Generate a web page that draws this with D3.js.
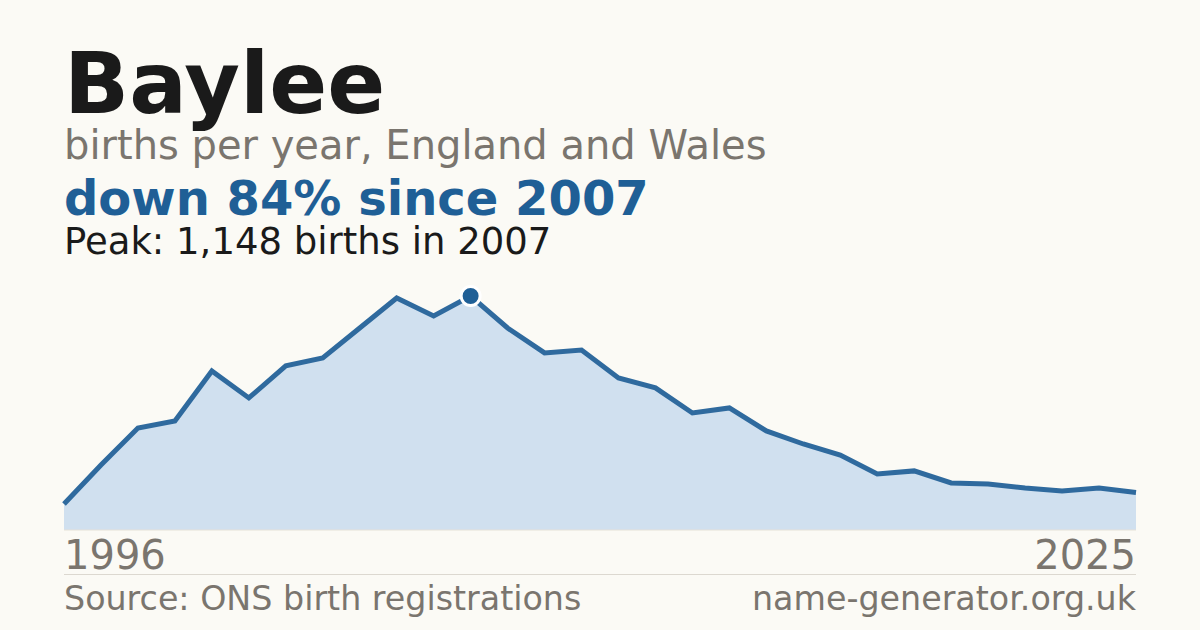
<!DOCTYPE html>
<html><head><meta charset="utf-8">
<script src="https://cdn.jsdelivr.net/npm/d3@7/dist/d3.min.js"></script>
<style>
html,body{margin:0;padding:0;background:#fbfaf5;}
svg{display:block;font-family:"DejaVu Sans",sans-serif;}
</style></head>
<body>
<svg id="chart" width="1200" height="630"></svg>
<script>
const years = [1996,1997,1998,1999,2000,2001,2002,2003,2004,2005,2006,2007,2008,2009,2010,2011,2012,2013,2014,2015,2016,2017,2018,2019,2020,2021,2022,2023,2024,2025];
const births = [128,319,500,535,780,648,805,844,991,1138,1050,1148,991,869,883,746,697,574,599,486,422,368,275,290,231,226,206,191,206,184];
const axisLabels = ["1996","2025"];
const title = "Baylee";
const subtitle = "births per year, England and Wales";
const headline = "down 84% since 2007";
const peakText = "Peak: 1,148 births in 2007";
const sourceText = "Source: ONS birth registrations";
const siteText = "name-generator.org.uk";

const data = years.map((y,i)=>({year:y, value:births[i]}));
const svg = d3.select("#chart");
svg.append("rect").attr("width",1200).attr("height",630).attr("fill","#fbfaf5");

const x = d3.scaleLinear().domain([1996,2025]).range([64,1136]);
const y = d3.scaleLinear().domain([0,1148]).range([530,296]);

svg.append("text").attr("x",64).attr("y",113).attr("font-size",85.5).attr("font-weight","bold").attr("fill","#1a1a1a").text(title);
svg.append("text").attr("x",64).attr("y",159).attr("font-size",40).attr("fill","#7a756e").text(subtitle);
svg.append("text").attr("x",64).attr("y",214.5).attr("font-size",48).attr("font-weight","bold").attr("fill","#1f5f96").text(headline);
svg.append("text").attr("x",64).attr("y",253.5).attr("font-size",37).attr("fill","#1a1a1a").text(peakText);

const area = d3.area().x(d=>x(d.year)).y0(y(0)).y1(d=>y(d.value));
svg.append("path").datum(data).attr("d",area).attr("fill","#d0e0ef");
svg.append("line").attr("x1",64).attr("x2",1136).attr("y1",y(0)).attr("y2",y(0)).attr("stroke","#e6e1d8").attr("stroke-width",1);

const line = d3.line().x(d=>x(d.year)).y(d=>y(d.value));
svg.append("path").datum(data).attr("d",line).attr("fill","none").attr("stroke","#2f6a9e").attr("stroke-width",5).attr("stroke-linejoin","miter");

const peakIdx = births.indexOf(d3.max(births));
svg.append("circle").attr("cx",x(years[peakIdx])).attr("cy",y(births[peakIdx])).attr("r",9.5)
  .attr("fill","#1f5f96").attr("stroke","#ffffff").attr("stroke-width",3);

svg.append("text").attr("x",x(+axisLabels[0])).attr("y",569).attr("font-size",40).attr("fill","#7a756e").text(axisLabels[0]);
svg.append("text").attr("x",x(+axisLabels[1])).attr("y",569).attr("font-size",40).attr("fill","#7a756e").attr("text-anchor","end").text(axisLabels[1]);

svg.append("line").attr("x1",64).attr("x2",1136).attr("y1",574.5).attr("y2",574.5).attr("stroke","#dcd8d0").attr("stroke-width",1);

svg.append("text").attr("x",64).attr("y",610).attr("font-size",33.3).attr("fill","#7a756e").text(sourceText);
svg.append("text").attr("x",1136).attr("y",610).attr("font-size",33.3).attr("fill","#7a756e").attr("text-anchor","end").text(siteText);
</script>
</body></html>
